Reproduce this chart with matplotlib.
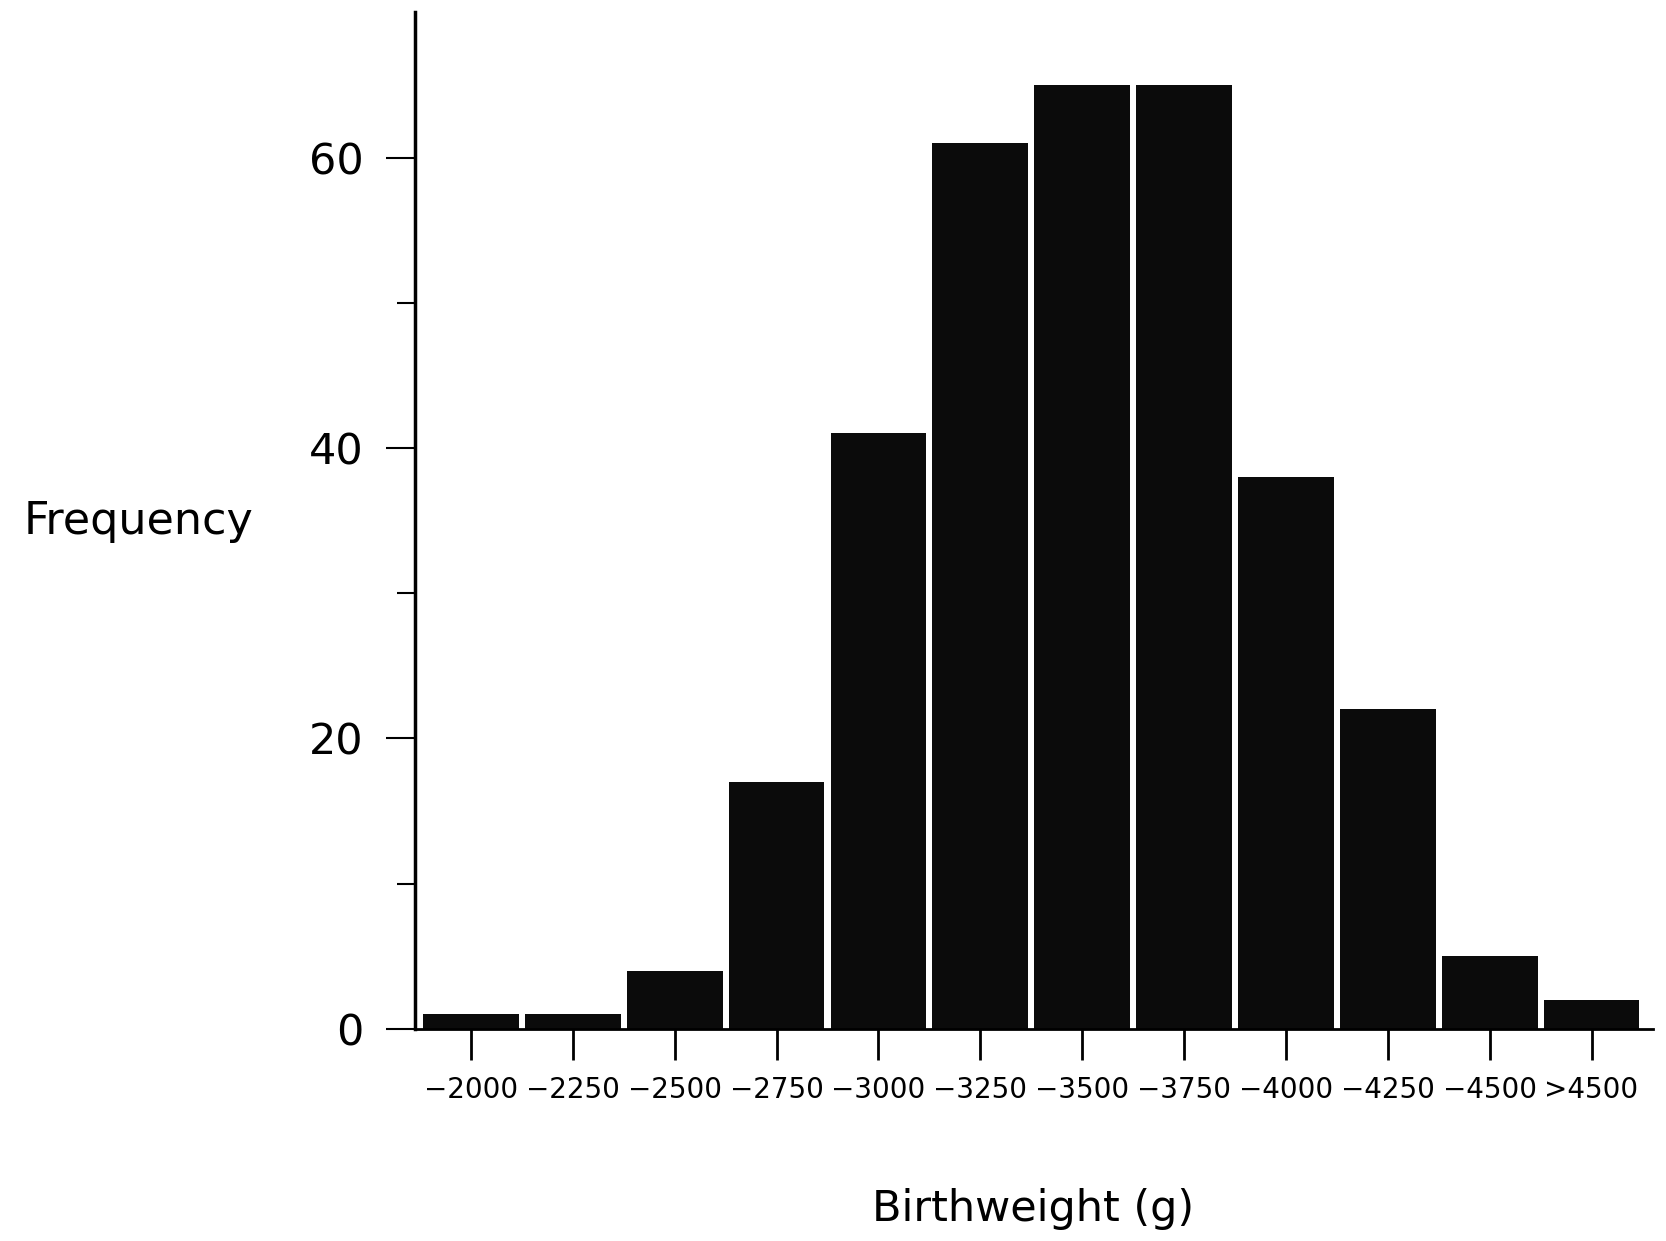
import matplotlib
matplotlib.use("Agg")
import matplotlib.pyplot as plt
import numpy as np

# birthweight classes and counts
classes = ["\u22122000", "\u22122250", "\u22122500", "\u22122750", "\u22123000", "\u22123250",
           "\u22123500", "\u22123750", "\u22124000", "\u22124250", "\u22124500", ">4500"]
counts = [1, 1, 4, 17, 41, 61, 65, 65, 38, 22, 5, 2]
yticks_major = [0, 20, 40, 60]
yticks_minor = [10, 30, 50]

fig = plt.figure(figsize=(16.66, 12.41), dpi=100)
ax = fig.add_axes([0.249, 0.171, 0.743, 0.819])

x = np.arange(len(classes))
ax.bar(x, counts, width=0.94, color="#0b0b0b", edgecolor="none")

ax.set_xlim(-0.55, len(classes) - 0.4)
ax.set_ylim(0, 70)

ax.spines["top"].set_visible(False)
ax.spines["right"].set_visible(False)
ax.spines["left"].set_linewidth(2.5)
ax.spines["bottom"].set_linewidth(2.0)

ax.set_xticks(x)
ax.set_xticklabels(classes, fontsize=20)
ax.set_yticks(yticks_major)
ax.set_yticklabels([str(v) for v in yticks_major], fontsize=31)
ax.set_yticks(yticks_minor, minor=True)

ax.tick_params(axis="x", direction="out", length=22, width=2, pad=12)
ax.tick_params(axis="y", which="major", direction="out", length=21, width=1.5, pad=16)
ax.tick_params(axis="y", which="minor", direction="out", length=13, width=1.5)

fig.text(0.083, 0.580, "Frequency", fontsize=32, ha="center", va="center")
fig.text(0.62, 0.026, "Birthweight (g)", fontsize=31, ha="center", va="center")

fig.savefig("out.png", dpi=100, facecolor="white")
